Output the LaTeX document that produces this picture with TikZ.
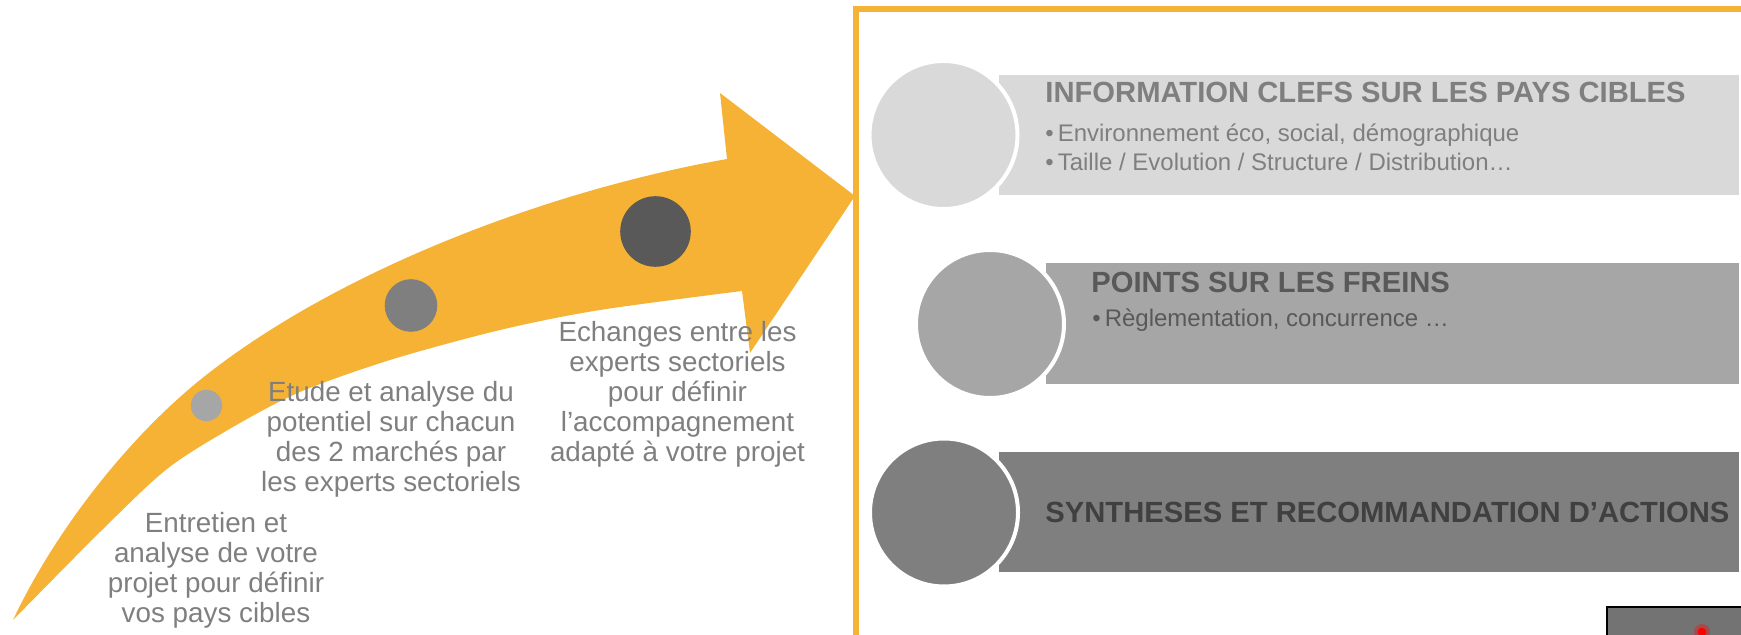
\documentclass[tikz,border=0pt]{standalone}
\usepackage{fontspec}
\setmainfont{Liberation Sans}
\usepackage{tikz}
\usetikzlibrary{positioning}
\definecolor{orangeA}{HTML}{F6B234}
\definecolor{greyA}{HTML}{D9D9D9}
\definecolor{greyB}{HTML}{A6A6A6}
\definecolor{greyC}{HTML}{7F7F7F}
\definecolor{greyD}{HTML}{595959}
\definecolor{greyE}{HTML}{404040}
\definecolor{greyF}{HTML}{737373}
\newcommand{\stepfont}{\fontsize{13.9}{15}\selectfont}
\newcommand{\headfont}{\fontsize{14.6}{17}\selectfont\bfseries}
\newcommand{\itemfont}{\fontsize{12}{14.5}\selectfont}

\begin{document}
\begin{tikzpicture}[x=0.5pt,y=-0.5pt,
  dot/.style={circle,inner sep=0pt},
  disc/.style={circle,draw=white,line width=2pt,inner sep=0pt,minimum size=74pt},
  steptext/.style={align=center,text=greyC,font=\stepfont,inner sep=0pt,anchor=north},
  head/.style={anchor=base west,inner sep=0pt,font=\headfont},
  item/.style={anchor=base west,inner sep=0pt,font=\itemfont}]
  \clip (0,0) rectangle (1741,635);
  % curved arrow
  \fill[orangeA] (13,620) .. controls (58,525) and (132,435) .. (200,380)
    .. controls (330,275) and (540,192) .. (727,159)
    -- (720,93) -- (855,196) -- (750,353) -- (742,291)
    -- plot[smooth] coordinates {(742,291) (600,310) (500,330) (390,360) (300,392) (233,427) (167,469) (100,532) (13,620)} -- cycle;
  \node[dot,fill=greyB,minimum size=15.7pt] (p1) at (206.5,405.5) {};
  \node[dot,fill=greyC,minimum size=26.3pt] (p2) at (411,305.5) {};
  \node[dot,fill=greyD,minimum size=35.3pt] (p3) at (655.5,231.5) {};
  \node[steptext] (t1) at (216,512) {Entretien et\\analyse de votre\\projet pour définir\\vos pays cibles};
  \node[steptext] (t2) at (391,381) {Etude et analyse du\\potentiel sur chacun\\des 2 marchés par\\les experts sectoriels};
  \node[steptext] (t3) at (677.5,321) {Echanges entre les\\experts sectoriels\\pour définir\\l’accompagnement\\adapté à votre projet};
  % frame
  \draw[orangeA,line width=2.75pt] (856,645) -- (856,9) -- (1750,9);
  % bands
  \fill[greyA] (999,75) rectangle (1739,195);
  \fill[greyB] (1046,263) rectangle (1739,384);
  \fill[greyC] (999,452) rectangle (1739,572);
  \node[disc,fill=greyA] (c1) at (943.5,135) {};
  \node[disc,fill=greyB] (c2) at (990,324) {};
  \node[disc,fill=greyC] (c3) at (944,512.5) {};
  \node[head,text=greyC] (h1) at (1045,102.5) {INFORMATION CLEFS SUR LES PAYS CIBLES};
  \node[item,text=greyC] (b11) at (1045,141.3) {•\,Environnement éco, social, démographique};
  \node[item,text=greyC] (b12) at ([yshift=-14.5pt]b11.base west) {•\,Taille / Evolution / Structure / Distribution…};
  \node[head,text=greyD] (h2) at (1091,292.5) {POINTS SUR LES FREINS};
  \node[item,text=greyD] (b2) at (1092,326.6) {•\,Règlementation, concurrence …};
  \node[head,text=greyE] (h3) at (1045,523) {SYNTHESES ET RECOMMANDATION D’ACTIONS};
  % corner picture
  \draw[fill=greyF,line width=0.6pt] (1607,607) rectangle (1750,645);
  \fill[red!35!greyF] (1702,632) circle (4pt);
  \fill[red] (1702,632) circle (2.2pt);
\end{tikzpicture}
\end{document}
